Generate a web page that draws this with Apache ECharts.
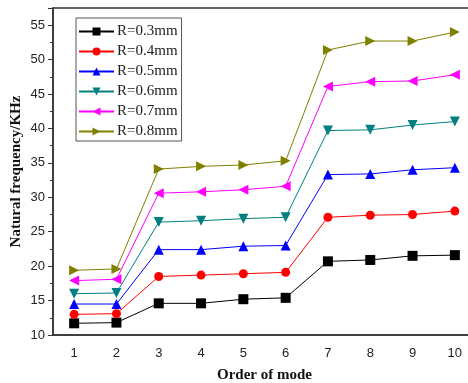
<!DOCTYPE html>
<html>
<head>
<meta charset="utf-8">
<script src="https://cdn.jsdelivr.net/npm/echarts@6/dist/echarts.min.js"></script>
<style>
  html, body { margin: 0; padding: 0; background: #fff; }
  #chart { width: 468px; height: 383px; }
</style>
</head>
<body>
<div id="chart"></div>
<script>
var modes = ["1", "2", "3", "4", "5", "6", "7", "8", "9", "10"];
var r03 = [11.7, 11.8, 14.6, 14.6, 15.2, 15.4, 20.7, 20.9, 21.5, 21.6];
var r04 = [13.0, 13.1, 18.5, 18.7, 18.9, 19.1, 27.1, 27.4, 27.5, 28.0];
var r05 = [14.5, 14.5, 22.4, 22.4, 22.9, 23.0, 33.3, 33.4, 34.0, 34.3];
var r06 = [16.0, 16.1, 26.4, 26.6, 26.9, 27.1, 39.7, 39.8, 40.5, 41.0];
var r07 = [17.9, 18.1, 30.6, 30.8, 31.1, 31.6, 46.1, 46.8, 46.9, 47.8];
var r08 = [19.4, 19.6, 34.1, 34.5, 34.7, 35.3, 51.4, 52.7, 52.7, 54.0];

var names = ["R=0.3mm", "R=0.4mm", "R=0.5mm", "R=0.6mm", "R=0.7mm", "R=0.8mm"];
var colors = ["#000000", "#ff0000", "#0000ff", "#008080", "#ff00ff", "#808000"];
var symbols = ["rect", "circle", "triangle", "triangle", "triangle", "triangle"];
var rotates = [0, 0, 0, 180, 90, -90];
var values = [r03, r04, r05, r06, r07, r08];

var series = values.map(function (d, i) {
  return {
    name: names[i],
    type: "line",
    data: d,
    symbol: symbols[i],
    symbolSize: i === 1 ? 9 : 10,
    symbolRotate: rotates[i],
    lineStyle: { color: colors[i], width: 1 },
    itemStyle: { color: colors[i] },
    z: 2 + i
  };
});

var option = {
  animation: false,
  backgroundColor: "#ffffff",
  color: colors,
  grid: {
    left: 53, right: -8, top: 8, bottom: 48,
    outerBoundsMode: "none",
    containLabel: false,
    show: true, borderColor: "#333", borderWidth: 1.5
  },
  legend: {
    orient: "vertical",
    left: 76, top: 18,
    itemWidth: 35, itemHeight: 10, itemGap: 5,
    padding: [6, 4, 2, 2],
    borderColor: "#555", borderWidth: 1,
    backgroundColor: "#fff",
    textStyle: { fontFamily: "Liberation Serif", fontSize: 15, lineHeight: 14, color: "#222", padding: [0, 0, 0, -2] },
    data: names
  },
  xAxis: {
    type: "category",
    data: modes,
    boundaryGap: true,
    name: "Order of mode",
    nameLocation: "middle",
    nameGap: 33,
    nameTextStyle: { fontFamily: "Liberation Serif", fontWeight: "bold", fontSize: 15, color: "#111" },
    axisLine: { lineStyle: { color: "#333", width: 1.5 } },
    axisTick: { alignWithLabel: true, inside: true, length: 6, lineStyle: { color: "#333" } },
    axisLabel: { fontFamily: "Liberation Sans", fontSize: 13, color: "#222", margin: 12 },
    splitLine: { show: false }
  },
  yAxis: {
    type: "value",
    min: 10, max: 57.5, interval: 5,
    name: "Natural frequency/KHz",
    nameLocation: "middle",
    nameGap: 29,
    nameMoveOverlap: false,
    nameTextStyle: { fontFamily: "Liberation Serif", fontWeight: "bold", fontSize: 15, color: "#111" },
    axisLine: { show: true, lineStyle: { color: "#333", width: 1.5 } },
    axisTick: { show: true, length: 5, lineStyle: { color: "#333" } },
    minorTick: { show: true, splitNumber: 2, length: 3, lineStyle: { color: "#333" } },
    axisLabel: { fontFamily: "Liberation Sans", fontSize: 13, color: "#222", margin: 8, showMaxLabel: false },
    splitLine: { show: false }
  },
  series: series
};

var myChart = echarts.init(document.getElementById("chart"));
myChart.setOption(option);
</script>
</body>
</html>
